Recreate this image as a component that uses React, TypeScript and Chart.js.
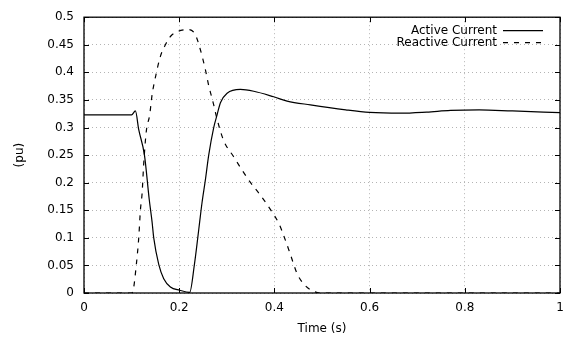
import React, { useEffect, useRef } from "react";
import { Chart, registerables } from "chart.js";

Chart.register(...registerables);

const activeTime = [0, 0.1, 0.108, 0.115, 0.127, 0.137, 0.143, 0.1465, 0.157, 0.1675, 0.1815, 0.201, 0.222, 0.232, 0.239, 0.243, 0.248, 0.255, 0.262, 0.2725, 0.2796, 0.2866, 0.3006, 0.3286, 0.3566, 0.3985, 0.4267, 0.4756, 0.55, 0.6, 0.665, 0.72, 0.77, 0.83, 0.9, 1.0];
const activeValues = [0.323, 0.323, 0.330, 0.296, 0.25, 0.17, 0.129, 0.1, 0.052, 0.026, 0.011, 0.005, 0.001, 0.052, 0.1, 0.129, 0.164, 0.205, 0.25, 0.3, 0.323, 0.345, 0.362, 0.369, 0.3657, 0.3557, 0.348, 0.341, 0.332, 0.3274, 0.326, 0.328, 0.331, 0.332, 0.33, 0.327];

const reactiveTime = [0, 0.1, 0.104, 0.11, 0.115, 0.1185, 0.122, 0.1255, 0.131, 0.138, 0.143, 0.15, 0.1605, 0.171, 0.1815, 0.1955, 0.21, 0.22, 0.234, 0.2445, 0.255, 0.262, 0.269, 0.2725, 0.2796, 0.2935, 0.3145, 0.332, 0.35, 0.37, 0.395, 0.41, 0.42, 0.4336, 0.4477, 0.46, 0.4756, 0.497, 0.55, 1.0];
const reactiveValues = [0, 0, 0.008, 0.052, 0.1, 0.15, 0.18, 0.235, 0.294, 0.323, 0.359, 0.391, 0.429, 0.45, 0.465, 0.4735, 0.477, 0.4776, 0.468, 0.441, 0.405, 0.376, 0.353, 0.341, 0.315, 0.276, 0.247, 0.223, 0.2, 0.178, 0.147, 0.125, 0.103, 0.07, 0.035, 0.018, 0.006, 0, 0, 0];

const seriesLabels = ["Active Current", "Reactive Current"];
const xTitle = "Time (s)";
const yTitle = "(pu)";

const FONT = "'DejaVu Sans', sans-serif";

const framePlugin = {
  id: "frame",
  afterDatasetsDraw(chart: any) {
    const { ctx, chartArea, scales } = chart;
    const { left, right, top, bottom } = chartArea;
    ctx.save();
    ctx.strokeStyle = "#000";
    ctx.lineWidth = 1;
    ctx.setLineDash([]);
    const tl = 5;
    ctx.beginPath();
    for (const t of scales.x.ticks) {
      const px = Math.round(scales.x.getPixelForValue(t.value)) + 0.5;
      ctx.moveTo(px, bottom);
      ctx.lineTo(px, bottom - tl);
      ctx.moveTo(px, top);
      ctx.lineTo(px, top + tl);
    }
    for (const t of scales.y.ticks) {
      const py = Math.round(scales.y.getPixelForValue(t.value)) + 0.5;
      ctx.moveTo(left, py);
      ctx.lineTo(left + tl, py);
      ctx.moveTo(right, py);
      ctx.lineTo(right - tl, py);
    }
    ctx.stroke();
    ctx.lineWidth = 1.3;
    ctx.strokeRect(left, top, right - left, bottom - top);

    // legend
    ctx.font = `12px ${FONT}`;
    ctx.fillStyle = "#000";
    ctx.textAlign = "right";
    ctx.textBaseline = "middle";
    const textRight = right - 63;
    const lineStart = right - 57;
    const lineEnd = right - 17;
    chart.data.datasets.forEach((ds: any, i: number) => {
      const y = top + 13.5 + i * 12;
      ctx.fillText(ds.label, textRight, y);
      ctx.beginPath();
      ctx.lineWidth = 1.2;
      ctx.setLineDash(ds.borderDash || []);
      ctx.moveTo(lineStart, y);
      ctx.lineTo(lineEnd, y);
      ctx.stroke();
    });
    ctx.restore();
  },
};

export default function App() {
  const canvasRef = useRef<HTMLCanvasElement | null>(null);

  useEffect(() => {
    if (!canvasRef.current) return;
    const activeData = activeTime.map((t, i) => ({ x: t, y: activeValues[i] }));
    const reactiveData = reactiveTime.map((t, i) => ({ x: t, y: reactiveValues[i] }));
    const tickFont = { family: FONT, size: 12 };
    const chart = new Chart(canvasRef.current, {
      type: "line",
      data: {
        datasets: [
          {
            label: seriesLabels[0],
            data: activeData,
            borderColor: "#000",
            borderWidth: 1.2,
            pointRadius: 0,
            cubicInterpolationMode: "monotone",
            fill: false,
          },
          {
            label: seriesLabels[1],
            data: reactiveData,
            borderColor: "#000",
            borderWidth: 1.2,
            borderDash: [5, 6],
            pointRadius: 0,
            cubicInterpolationMode: "monotone",
            fill: false,
          },
        ],
      },
      options: {
        animation: false,
        responsive: true,
        maintainAspectRatio: false,
        layout: { padding: { top: 10, right: 12, left: 0, bottom: 0 } },
        plugins: {
          legend: { display: false },
          tooltip: { enabled: false },
        },
        scales: {
          x: {
            type: "linear",
            min: 0,
            max: 1,
            ticks: {
              stepSize: 0.2,
              color: "#000",
              font: tickFont,
              padding: 8,
              maxRotation: 0,
              callback: (v: any) => String(Number(Number(v).toFixed(2))),
            },
            grid: {
              color: "#b4b4b4",
              lineWidth: 1,
              drawTicks: false,
            },
            border: { display: false, dash: [1, 3] },
            title: {
              display: true,
              text: xTitle,
              color: "#000",
              font: tickFont,
              padding: { top: 0, bottom: 8 },
            },
            afterFit: (scale: any) => {
              scale.height = 51;
            },
          },
          y: {
            type: "linear",
            min: 0,
            max: 0.5,
            ticks: {
              stepSize: 0.05,
              color: "#000",
              font: tickFont,
              padding: 10,
              callback: (v: any) => String(Number(Number(v).toFixed(2))),
            },
            grid: {
              color: "#b4b4b4",
              lineWidth: 1,
              drawTicks: false,
            },
            border: { display: false, dash: [1, 3] },
            title: {
              display: true,
              text: yTitle,
              color: "#000",
              font: tickFont,
              padding: { top: 13, bottom: 0 },
            },
            afterFit: (scale: any) => {
              scale.width = 84;
            },
          },
        },
      },
      plugins: [framePlugin],
    });
    return () => chart.destroy();
  }, []);

  return (
    <div style={{ position: "absolute", left: 0, top: 0, width: 572, height: 344, background: "#fff" }}>
      <canvas ref={canvasRef} />
    </div>
  );
}
